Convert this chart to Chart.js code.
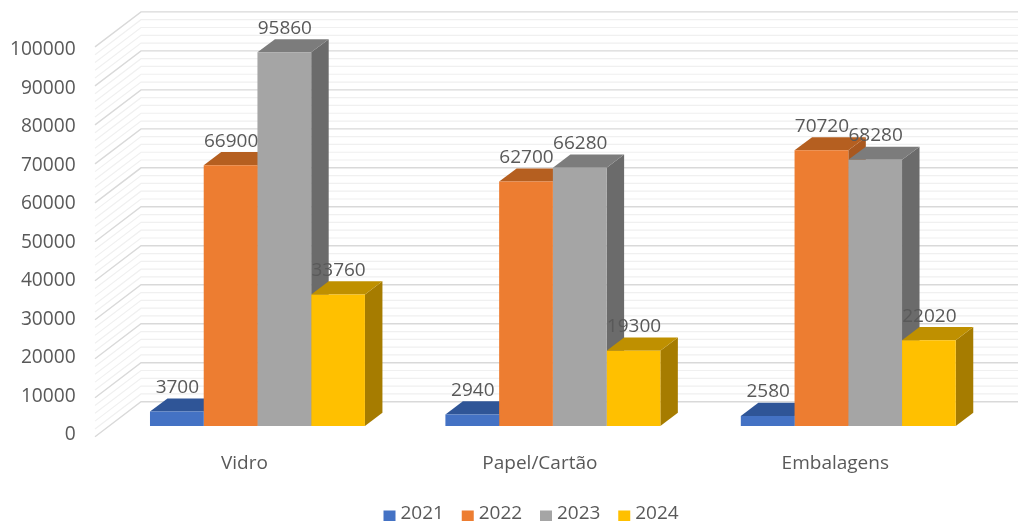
<!DOCTYPE html>
<html>
<head>
<meta charset="utf-8">
<title>Vidro, Papel/Cartão, Embalagens</title>
<script src="https://cdn.jsdelivr.net/npm/chart.js@4"></script>
<style>
    html, body { margin: 0; padding: 0; background: #fff; overflow: hidden; }
    canvas { display: block; filter: blur(0.45px); }
</style>
</head>
<body>
<canvas id="binChart" width="1018" height="521"></canvas>
<script>
// Data
const categories = ["Vidro", "Papel/Cartão", "Embalagens"];
const years = ["2021", "2022", "2023", "2024"];
const values2021 = [3700, 2940, 2580];
const values2022 = [66900, 62700, 70720];
const values2023 = [95860, 66280, 68280];
const values2024 = [33760, 19300, 22020];
const yTickValues = [0, 10000, 20000, 30000, 40000, 50000, 60000, 70000, 80000, 90000, 100000];

// Colours: front, top and side of each series
const frontColors = ["#4472C4", "#ED7D31", "#A5A5A5", "#FFC000"];
const topColors = ["#2F5597", "#B55F20", "#7C7C7C", "#BF9000"];
const sideColors = ["#335593", "#A9581F", "#6B6B6B", "#A67C00"];

const textColor = "#595959";
const textFont = { family: "'Open Sans', sans-serif", size: 19 };
const yLabelFont = { family: "'Open Sans', sans-serif", size: 19.2 };

// 3D offsets, in pixels
const barDepthX = 17.5;
const barDepthY = 13.2;
const wallBackY = 24.3;   // back wall sits this far above the bar front plane
const wallFrontY = 10.7;  // front edge of the side wall sits this far below it
const wallFrontX = 95;
const wallBackX = 141;

// Draws the back and side walls of the 3D box
const wallsPlugin = {
    id: "walls",
    beforeDatasetsDraw(chart) {
        const y = chart.scales.y;
        const ctx = chart.ctx;
        ctx.save();
        // minor lines first so the major ones stay on top
        for (let pass = 0; pass < 2; pass++) {
            for (let v = 0; v <= 100000; v += 2000) {
                const major = v % 10000 === 0;
                if (major !== (pass === 1)) continue;
                const py = y.getPixelForValue(v);
                ctx.strokeStyle = major ? "#D9D9D9" : "#F0F0F0";
                ctx.lineWidth = major ? 1.4 : 1.2;
                ctx.beginPath();
                ctx.moveTo(wallFrontX, py + wallFrontY);
                ctx.lineTo(wallBackX, py - wallBackY);
                ctx.lineTo(chart.width, py - wallBackY);
                ctx.stroke();
            }
        }
        ctx.restore();
    }
};

function fillFace(ctx, color, points) {
    ctx.fillStyle = color;
    ctx.beginPath();
    points.forEach((p, i) => {
        if (i === 0) ctx.moveTo(p[0], p[1]);
        else ctx.lineTo(p[0], p[1]);
    });
    ctx.closePath();
    ctx.fill();
}

// Draws the top and side of every bar, left to right, behind the fronts
const barFacesPlugin = {
    id: "barFaces",
    beforeDatasetsDraw(chart) {
        const ctx = chart.ctx;
        categories.forEach((cat, c) => {
            years.forEach((year, d) => {
                const bar = chart.getDatasetMeta(d).data[c];
                const left = bar.x - bar.width / 2;
                const right = bar.x + bar.width / 2;
                const top = bar.y;
                const base = bar.base;
                fillFace(ctx, sideColors[d], [
                    [right, top],
                    [right + barDepthX, top - barDepthY],
                    [right + barDepthX, base - barDepthY],
                    [right, base]
                ]);
                fillFace(ctx, topColors[d], [
                    [left, top],
                    [left + barDepthX, top - barDepthY],
                    [right + barDepthX, top - barDepthY],
                    [right, top]
                ]);
            });
        });
    }
};

// Value labels above each bar
const valueLabelsPlugin = {
    id: "valueLabels",
    afterDatasetsDraw(chart) {
        const ctx = chart.ctx;
        ctx.save();
        ctx.fillStyle = textColor;
        ctx.font = textFont.size + "px " + textFont.family;
        ctx.textAlign = "center";
        ctx.textBaseline = "middle";
        chart.data.datasets.forEach((dataset, d) => {
            chart.getDatasetMeta(d).data.forEach((bar, i) => {
                ctx.fillText(String(dataset.data[i]), bar.x + 0.5, bar.y - 24);
            });
        });
        ctx.restore();
    }
};

// Legend row at the bottom edge: the built-in one leaves too wide a gap before the text
const bottomLegendPlugin = {
    id: "bottomLegend",
    afterDraw(chart) {
        const ctx = chart.ctx;
        ctx.save();
        ctx.font = textFont.size + "px " + textFont.family;
        ctx.textBaseline = "middle";
        years.forEach((year, i) => {
            const x = 383.5 + i * 78.25;
            ctx.fillStyle = frontColors[i];
            ctx.fillRect(x, 510.5, 12, 12);
            ctx.fillStyle = textColor;
            ctx.fillText(year, x + 17, 514);
        });
        ctx.restore();
    }
};

const data = {
    labels: categories,
    datasets: [
        { label: years[0], data: values2021, backgroundColor: frontColors[0] },
        { label: years[1], data: values2022, backgroundColor: frontColors[1] },
        { label: years[2], data: values2023, backgroundColor: frontColors[2] },
        { label: years[3], data: values2024, backgroundColor: frontColors[3] }
    ]
};

const config = {
    type: "bar",
    data: data,
    options: {
        responsive: false,
        animation: false,
        layout: { padding: { top: 36.2, right: 22, left: 0, bottom: 0 } },
        categoryPercentage: 0.7276,
        barPercentage: 1,
        plugins: {
            tooltip: { enabled: false },
            legend: { display: false }
        },
        scales: {
            x: {
                grid: { display: false, drawTicks: false },
                border: { display: false },
                ticks: { color: textColor, font: textFont, padding: 20, labelOffset: -13, maxRotation: 0 },
                afterFit(axis) { axis.height = 88.5; }
            },
            // bars use this one: 0 lies above the bottom of the plot area
            y: {
                display: false,
                min: -1667,
                max: 100000
            },
            // printed labels, their spacing is a little tighter than the bars
            yLabels: {
                position: "left",
                min: 0,
                max: 102935,
                grid: { display: false, drawTicks: false },
                border: { display: false },
                afterBuildTicks(axis) {
                    axis.ticks = yTickValues.map(v => ({ value: v }));
                },
                ticks: {
                    autoSkip: false,
                    color: textColor,
                    font: yLabelFont,
                    padding: 34,
                    labelOffset: 2.5,
                    callback: value => String(value)
                },
                afterFit(axis) {
                    axis.width = 109.75;
                    // the fitted padding would push the plot area down
                    axis.paddingTop = 0;
                    axis.paddingBottom = 0;
                }
            }
        }
    },
    plugins: [wallsPlugin, barFacesPlugin, valueLabelsPlugin, bottomLegendPlugin]
};

const ctx = document.getElementById("binChart");
const binChart = new Chart(ctx, config);
</script>
</body>
</html>
